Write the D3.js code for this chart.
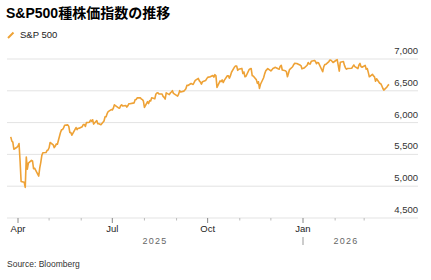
<!DOCTYPE html>
<html lang="ja">
<head>
<meta charset="UTF-8" />
<title>S&amp;P500種株価指数の推移</title>
<script src="https://d3js.org/d3.v7.min.js"></script>
<style>
  body { margin: 0; background: #fff; }
  svg { display: block; font-family: "Liberation Sans", Arial, "Noto Sans CJK JP", sans-serif; }
  .title { font-size: 14px; font-weight: bold; fill: #000; }
  .legend-text { font-size: 9.5px; fill: #222; }
  .ytick text { font-size: 9.5px; fill: #333; }
  .grid line { stroke: #e3e3e3; stroke-width: 1; }
  .xtick text { font-size: 9.5px; fill: #222; }
  .year { font-size: 9px; fill: #666; letter-spacing: 1.2px; }
  .source { font-size: 8.5px; fill: #333; }
</style>
</head>
<body>
<div id="chart"></div>
<script>
// 取引日 (Mar 2025 - Mar 2026) と終値
const dates = [
  "2025-03-25","2025-03-26","2025-03-27","2025-03-28","2025-03-31",
  "2025-04-01","2025-04-02","2025-04-03","2025-04-04","2025-04-07","2025-04-08","2025-04-09","2025-04-10","2025-04-11",
  "2025-04-14","2025-04-15","2025-04-16","2025-04-17","2025-04-21","2025-04-22","2025-04-23","2025-04-24","2025-04-25",
  "2025-04-28","2025-04-29","2025-04-30",
  "2025-05-01","2025-05-02","2025-05-05","2025-05-06","2025-05-07","2025-05-08","2025-05-09","2025-05-12","2025-05-13",
  "2025-05-14","2025-05-15","2025-05-16","2025-05-19","2025-05-20","2025-05-21","2025-05-22","2025-05-23","2025-05-27",
  "2025-05-28","2025-05-29","2025-05-30",
  "2025-06-02","2025-06-03","2025-06-04","2025-06-05","2025-06-06","2025-06-09","2025-06-10","2025-06-11","2025-06-12",
  "2025-06-13","2025-06-16","2025-06-17","2025-06-18","2025-06-20","2025-06-23","2025-06-24","2025-06-25","2025-06-26",
  "2025-06-27","2025-06-30",
  "2025-07-01","2025-07-02","2025-07-03","2025-07-07","2025-07-08","2025-07-09","2025-07-10","2025-07-11","2025-07-14",
  "2025-07-15","2025-07-16","2025-07-17","2025-07-18","2025-07-21","2025-07-22","2025-07-23","2025-07-24","2025-07-25",
  "2025-07-28","2025-07-29","2025-07-30","2025-07-31",
  "2025-08-01","2025-08-04","2025-08-05","2025-08-06","2025-08-07","2025-08-08","2025-08-11","2025-08-12","2025-08-13",
  "2025-08-14","2025-08-15","2025-08-18","2025-08-19","2025-08-20","2025-08-21","2025-08-22","2025-08-25","2025-08-26",
  "2025-08-27","2025-08-28","2025-08-29",
  "2025-09-02","2025-09-03","2025-09-04","2025-09-05","2025-09-08","2025-09-09","2025-09-10","2025-09-11","2025-09-12",
  "2025-09-15","2025-09-16","2025-09-17","2025-09-18","2025-09-19","2025-09-22","2025-09-23","2025-09-24","2025-09-25",
  "2025-09-26","2025-09-29","2025-09-30",
  "2025-10-01","2025-10-02","2025-10-03","2025-10-06","2025-10-07","2025-10-08","2025-10-09","2025-10-10","2025-10-13",
  "2025-10-14","2025-10-15","2025-10-16","2025-10-17","2025-10-20","2025-10-21","2025-10-22","2025-10-23","2025-10-24",
  "2025-10-27","2025-10-28","2025-10-29","2025-10-30","2025-10-31",
  "2025-11-03","2025-11-04","2025-11-05","2025-11-06","2025-11-07","2025-11-10","2025-11-11","2025-11-12","2025-11-13",
  "2025-11-14","2025-11-17","2025-11-18","2025-11-19","2025-11-20","2025-11-21","2025-11-24","2025-11-25","2025-11-26",
  "2025-11-28",
  "2025-12-01","2025-12-02","2025-12-03","2025-12-04","2025-12-05","2025-12-08","2025-12-09","2025-12-10","2025-12-11",
  "2025-12-12","2025-12-15","2025-12-16","2025-12-17","2025-12-18","2025-12-19","2025-12-22","2025-12-23","2025-12-24",
  "2025-12-26","2025-12-29","2025-12-30","2025-12-31",
  "2026-01-02","2026-01-05","2026-01-06","2026-01-07","2026-01-08","2026-01-09","2026-01-12","2026-01-13","2026-01-14",
  "2026-01-15","2026-01-16","2026-01-20","2026-01-21","2026-01-22","2026-01-23","2026-01-26","2026-01-27","2026-01-28",
  "2026-01-29","2026-01-30",
  "2026-02-02","2026-02-03","2026-02-04","2026-02-05","2026-02-06","2026-02-09","2026-02-10","2026-02-11","2026-02-12",
  "2026-02-13","2026-02-17","2026-02-18","2026-02-19","2026-02-20","2026-02-23","2026-02-24","2026-02-25","2026-02-26",
  "2026-02-27",
  "2026-03-02","2026-03-03","2026-03-04","2026-03-05","2026-03-06","2026-03-09","2026-03-10","2026-03-11","2026-03-12",
  "2026-03-13","2026-03-16","2026-03-17","2026-03-18","2026-03-19","2026-03-20","2026-03-23","2026-03-24","2026-03-25"
];
const values = [
  5776,5712,5693,5581,5612,
  5633,5671,5397,5074,5062,4982,5457,5268,5363,
  5406,5397,5276,5283,5158,5288,5376,5485,5525,
  5529,5561,5569,
  5604,5687,5650,5607,5631,5664,5660,5844,5886,
  5892,5917,5958,5964,5941,5845,5842,5802,5922,
  5889,5912,5912,
  5936,5970,5971,5939,6000,6006,6038,6022,6045,
  5977,6033,5983,5981,5967,6025,6092,6092,6141,
  6173,6205,
  6198,6227,6279,6230,6226,6263,6280,6260,6269,
  6244,6264,6297,6297,6306,6309,6359,6363,6389,
  6390,6371,6362,6339,
  6238,6330,6299,6345,6340,6389,6374,6446,6466,
  6469,6450,6449,6412,6396,6370,6467,6440,6466,
  6481,6502,6460,
  6416,6448,6502,6482,6495,6512,6532,6588,6584,
  6615,6606,6600,6631,6664,6694,6656,6638,6605,
  6644,6661,6688,
  6711,6715,6716,6740,6714,6754,6735,6553,6655,
  6644,6671,6630,6664,6736,6735,6699,6738,6792,
  6875,6891,6890,6822,6840,
  6852,6771,6796,6720,6729,6832,6846,6850,6737,
  6734,6672,6617,6642,6538,6603,6705,6766,6813,
  6849,
  6813,6829,6850,6857,6870,6846,6840,6886,6901,
  6827,6816,6800,6721,6775,6834,6878,6910,6932,
  6930,6905,6896,6845,
  6858,6902,6944,6921,6921,6966,6977,6963,6926,
  6944,6940,6800,6876,6913,6916,6960,6985,6980,
  6965,6945,
  6980,6990,6900,6810,6950,6960,6900,6860,6840,
  6850,6855,6880,6905,6880,6850,6905,6930,6880,
  6870,
  6900,6840,6850,6790,6720,6760,6735,6720,6650,
  6690,6620,6612,6580,6540,6510,6560,6585,6600
];
const yTicks = [4500, 5000, 5500, 6000, 6500, 7000];
const monthLabels = { 0: "Jan", 3: "Apr", 6: "Jul", 9: "Oct" };
const years = ["2025", "2026"];
const seriesName = "S&P 500";
const titleText = "S&P500種株価指数の推移";
const sourceText = "Source: Bloomberg";

const W = 431, H = 280;
const plotLeft = 7, plotRight = 418, plotTop = 59, plotBottom = 218;
const lineColor = "#eea236";

const parse = d3.timeParse("%Y-%m-%d");
const data = dates.map((d, i) => ({ date: parse(d), value: values[i] }));

const svg = d3.select("#chart").append("svg")
  .attr("width", W).attr("height", H);

// x: 日付 -> px (Apr 1 2025 と Jan 1 2026 の位置で合わせる)
const x = d3.scaleTime()
  .domain([new Date(2025, 3, 1), new Date(2026, 0, 1)])
  .range([18, 303]);
const y = d3.scaleLinear().domain([4500, 7000]).range([plotBottom, plotTop]);

// タイトル
svg.append("text").attr("class", "title")
  .attr("x", 6).attr("y", 18).text(titleText);

// 凡例
svg.append("line")
  .attr("x1", 8).attr("y1", 38).attr("x2", 13.5).attr("y2", 32.5)
  .attr("stroke", lineColor).attr("stroke-width", 2);
svg.append("text").attr("class", "legend-text")
  .attr("x", 20).attr("y", 38).text(seriesName);

// グリッド線
const grid = svg.append("g").attr("class", "grid");
grid.selectAll("line").data(yTicks).join("line")
  .attr("x1", plotLeft).attr("x2", plotRight)
  .attr("y1", d => y(d)).attr("y2", d => y(d));

// y ラベル
svg.append("g").attr("class", "ytick")
  .selectAll("text").data(yTicks).join("text")
  .attr("x", plotRight).attr("y", d => y(d) - 5)
  .attr("text-anchor", "end")
  .text(d3.format(","));

// x 軸 (月ごとの目盛り)
const months = d3.timeMonth.range(new Date(2025, 3, 1), new Date(2026, 3, 1));
const isMajor = d => d.getMonth() in monthLabels;
const xg = svg.append("g").attr("class", "xtick");
xg.selectAll("line").data(months).join("line")
  .attr("x1", d => x(d)).attr("x2", d => x(d))
  .attr("y1", plotBottom)
  .attr("y2", d => plotBottom + (isMajor(d) ? 5 : 2.5))
  .attr("stroke", d => isMajor(d) ? "#888" : "#bbb");
xg.selectAll("text").data(months.filter(isMajor)).join("text")
  .attr("x", d => x(d)).attr("y", 232)
  .attr("text-anchor", "middle")
  .text(d => monthLabels[d.getMonth()]);

// 年ラベル
const lastDate = data[data.length - 1].date;
const jan = new Date(2026, 0, 1);
const yearPos = [(plotLeft + x(jan)) / 2, (x(jan) + x(lastDate)) / 2];
svg.append("g").selectAll("text").data(years).join("text")
  .attr("class", "year")
  .attr("x", (d, i) => yearPos[i]).attr("y", 244)
  .attr("text-anchor", "middle")
  .text(d => d);
svg.append("line")
  .attr("x1", x(jan)).attr("x2", x(jan))
  .attr("y1", 237).attr("y2", 245)
  .attr("stroke", "#999");

// 折れ線
const line = d3.line().x(d => x(d.date)).y(d => y(d.value));
svg.append("path").datum(data)
  .attr("fill", "none")
  .attr("stroke", lineColor)
  .attr("stroke-width", 1.6)
  .attr("stroke-linejoin", "round")
  .attr("d", line);

// 出典
svg.append("text").attr("class", "source")
  .attr("x", 7).attr("y", 267).text(sourceText);
</script>
</body>
</html>
